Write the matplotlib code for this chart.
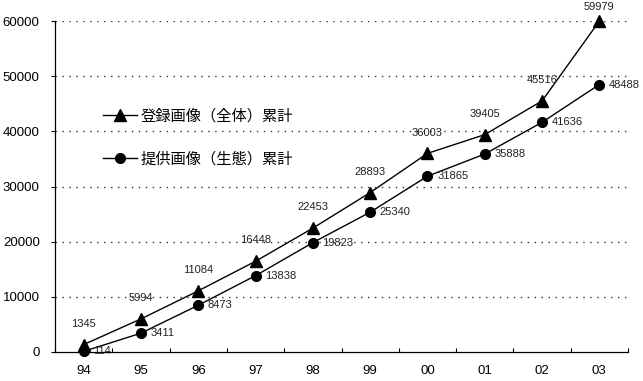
import matplotlib.pyplot as plt
from matplotlib.lines import Line2D
import numpy as np

# data
years = ['94', '95', '96', '97', '98', '99', '00', '01', '02', '03']
registered = [1345, 5994, 11084, 16448, 22453, 28893, 36003, 39405, 45516, 59979]
provided = [114, 3411, 8473, 13838, 19823, 25340, 31865, 35888, 41636, 48488]
label_reg = '登録画像（全体）累計'
label_prov = '提供画像（生態）累計'

plt.rcParams['font.family'] = ['Liberation Sans', 'DejaVu Sans']

fig = plt.figure(figsize=(6.43, 3.81), dpi=100)
ax = fig.add_axes([55 / 643, 1 - 352 / 381, 573 / 643, 331 / 381])

x = np.arange(len(years))

ax.plot(x, registered, color='black', lw=1, marker='^', ms=8, clip_on=False, zorder=3)
ax.plot(x, provided, color='black', lw=1, marker='o', ms=7, clip_on=False, zorder=3)

# value labels
for xi, v in zip(x, registered):
    dy = 10 if v == max(registered) else 15  # top one sits closer
    ax.annotate(str(v), (xi, v), xytext=(0, dy), textcoords='offset points',
                ha='center', va='center', fontsize=8, color='#222222')
for xi, v in zip(x, provided):
    ax.annotate(str(v), (xi, v), xytext=(7, 0), textcoords='offset points',
                ha='left', va='center', fontsize=8, color='#222222')

ax.set_xlim(-0.5, len(years) - 0.5)
ax.set_ylim(0, 60000)
ax.set_yticks(np.arange(0, 60001, 10000))
ax.set_xticks(x)
ax.set_xticklabels(years)
ax.set_xticks(np.arange(-0.5, len(years)), minor=True)
ax.tick_params(axis='x', which='major', length=0, pad=9, labelsize=9.5)
ax.tick_params(axis='x', which='minor', direction='in', length=3, width=0.8)
ax.tick_params(axis='y', length=3, width=0.8, pad=8, labelsize=9.5)

for gy in range(10000, 60001, 10000):
    ax.axhline(gy, color='#333333', lw=1, ls=(0, (1, 4)), zorder=1)

for s in ['top', 'right']:
    ax.spines[s].set_visible(False)
ax.spines['left'].set_linewidth(0.9)
ax.spines['bottom'].set_linewidth(0.9)

handles = [Line2D([], [], color='black', lw=1, marker='^', ms=8),
           Line2D([], [], color='black', lw=1, marker='o', ms=7)]
leg = ax.legend(handles, [label_reg, label_prov], loc='upper left',
                bbox_to_anchor=(0.084, 0.74), frameon=False, handlelength=2.2,
                handletextpad=0.25, labelspacing=1.75, borderpad=0, borderaxespad=0,
                prop={'family': ['Noto Sans CJK JP', 'DejaVu Sans'], 'size': 11})

fig.savefig('out.png', dpi=100, facecolor='white')
